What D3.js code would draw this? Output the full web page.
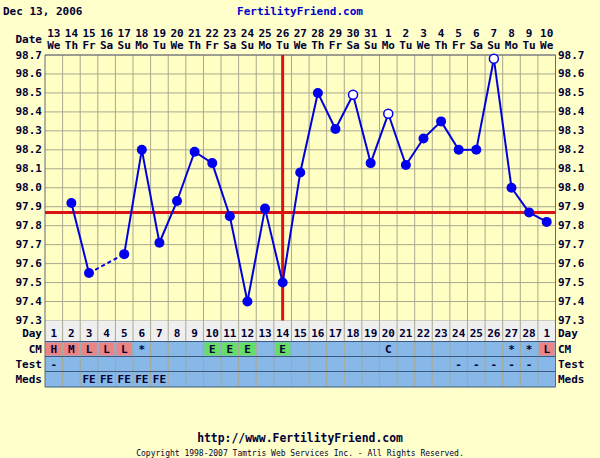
<!DOCTYPE html>
<html>
<head>
<meta charset="utf-8">
<script src="https://cdn.jsdelivr.net/npm/d3@7"></script>
<style>
  body { margin: 0; background: #ffffcc; }
  svg { display: block; }
  text { font-family: "DejaVu Sans Mono", monospace; font-weight: bold; fill: #000033; }
</style>
</head>
<body>
<svg id="chart" width="600" height="458"></svg>
<script>
// dates along the top
const dates = ["13","14","15","16","17","18","19","20","21","22","23","24","25","26","27","28","29","30","31",
               "1","2","3","4","5","6","7","8","9","10"];
const weekdays = ["We","Th","Fr","Sa","Su","Mo","Tu","We","Th","Fr","Sa","Su","Mo","Tu","We","Th","Fr","Sa","Su",
                  "Mo","Tu","We","Th","Fr","Sa","Su","Mo","Tu","We"];
const cycleDays = ["1","2","3","4","5","6","7","8","9","10","11","12","13","14","15","16","17","18","19","20",
                   "21","22","23","24","25","26","27","28","1"];
// temperaturen (null = niet gemeten)
const temps = [null, 97.92, 97.55, null, 97.65, 98.20, 97.71, 97.93, 98.19, 98.13, 97.85, 97.40, 97.89, 97.50,
               98.08, 98.50, 98.31, 98.49, 98.13, 98.39, 98.12, 98.26, 98.35, 98.20, 98.20, 98.68, 98.00, 97.87, 97.82];
// open cirkels = afwijkende meting
const openMarks = [17, 19, 25];
const cm   = ["H","M","L","L","L","*","","","","E","E","E","","E","","","","","","C","","","","","","","*","*","L"];
const test = ["-","","","","","","","","","","","","","","","","","","","","","","","-","-","-","-","-",""];
const meds = ["","","FE","FE","FE","FE","FE","","","","","","","","","","","","","","","","","","","","","",""];
const yTicks = [98.7, 98.6, 98.5, 98.4, 98.3, 98.2, 98.1, 98.0, 97.9, 97.8, 97.7, 97.6, 97.5, 97.4, 97.3];
const coverline = 97.87;
const ovulationDay = 13;

const plotLeft = 45, plotRight = 555.5, plotTop = 55, plotBottom = 320.5;
const svg = d3.select("#chart");

const x = d3.scaleBand().domain(d3.range(dates.length)).range([plotLeft, plotRight]);
const y = d3.scaleLinear().domain([97.3, 98.7]).range([plotBottom, plotTop]);
const cx = i => x(i) + x.bandwidth() / 2;

// header
svg.append("text").attr("x", 3).attr("y", 15).style("font-size", "11px").text("Dec 13, 2006");
svg.append("text").attr("x", 300).attr("y", 15).attr("text-anchor", "middle")
    .style("font-size", "11px").style("fill", "#0000cc").text("FertilityFriend.com");

// plot achtergrond + grid
svg.append("rect").attr("x", plotLeft).attr("y", plotTop).attr("width", plotRight - plotLeft).attr("height", plotBottom - plotTop)
    .attr("fill", "#ffffc4");

svg.append("g").selectAll("line").data(yTicks).join("line")
    .attr("x1", plotLeft).attr("x2", plotRight)
    .attr("y1", d => y(d)).attr("y2", d => y(d))
    .attr("stroke", "#a8a890").attr("stroke-width", 1);

// tabel rijen
const rows = [
  { name: "Day",  y0: 320.5, y1: 341.5, fill: "#efefef", vals: cycleDays, dy: 6 },
  { name: "CM",   y0: 341.5, y1: 356.5, fill: "#88b8e8", vals: cm, dy: 4 },
  { name: "Test", y0: 356.5, y1: 371.5, fill: "#88b8e8", vals: test, dy: 4 },
  { name: "Meds", y0: 371.5, y1: 387,   fill: "#88b8e8", vals: meds, dy: 4 }
];

rows.forEach(r => {
  svg.append("rect").attr("x", plotLeft).attr("y", r.y0).attr("width", plotRight - plotLeft).attr("height", r.y1 - r.y0)
      .attr("fill", r.fill);
});

// gekleurde CM cellen
const cmColor = v => (v === "H" || v === "M" || v === "L") ? "#ec8484" : v === "E" ? "#66dd66" : null;
svg.append("g").selectAll("rect").data(cm.map((v, i) => ({ v, i })).filter(d => cmColor(d.v)))
    .join("rect")
    .attr("x", d => x(d.i) + 1).attr("y", 342.5)
    .attr("width", x.bandwidth() - 2).attr("height", 13)
    .attr("fill", d => cmColor(d.v));

// verticale gridlijnen (plot + tabel)
svg.append("g").selectAll("line").data(d3.range(dates.length + 1)).join("line")
    .attr("x1", i => plotLeft + i * x.bandwidth()).attr("x2", i => plotLeft + i * x.bandwidth())
    .attr("y1", plotTop).attr("y2", 387)
    .attr("stroke", i => (i === 0 || i === dates.length) ? "#667" : "#a8a890").attr("stroke-width", 1);

// rij scheidingslijnen
svg.append("g").selectAll("line").data([341.5, 356.5, 371.5, 387]).join("line")
    .attr("x1", plotLeft).attr("x2", plotRight).attr("y1", d => d).attr("y2", d => d)
    .attr("stroke", "#3a5a80").attr("stroke-width", 1);
svg.append("line").attr("x1", plotLeft).attr("x2", plotRight).attr("y1", plotTop).attr("y2", plotTop)
    .attr("stroke", "#667");

rows.forEach(r => {
  const mid = (r.y0 + r.y1) / 2 + r.dy;
  svg.append("text").attr("x", 42).attr("y", mid).attr("text-anchor", "end").style("font-size", "11px").text(r.name);
  svg.append("text").attr("x", 558).attr("y", mid).style("font-size", "11px").text(r.name);
  svg.append("g").selectAll("text").data(r.vals.map((v, i) => ({ v, i })).filter(d => d.v)).join("text")
      .attr("x", d => cx(d.i)).attr("y", mid).attr("text-anchor", "middle")
      .style("font-size", "11px").text(d => d.v);
});

// datums boven
svg.append("text").attr("x", 42).attr("y", 43).attr("text-anchor", "end").style("font-size", "11px").text("Date");
svg.append("g").selectAll("text").data(dates).join("text")
    .attr("x", (d, i) => cx(i)).attr("y", 37).attr("text-anchor", "middle").style("font-size", "11px").text(d => d);
svg.append("g").selectAll("text").data(weekdays).join("text")
    .attr("x", (d, i) => cx(i)).attr("y", 49).attr("text-anchor", "middle").style("font-size", "11px").text(d => d);

// y-as labels links en rechts
svg.append("g").selectAll("text").data(yTicks).join("text")
    .attr("x", 42).attr("y", d => y(d) + 3.5).attr("text-anchor", "end").style("font-size", "11px")
    .text(d => d.toFixed(1));
svg.append("g").selectAll("text").data(yTicks).join("text")
    .attr("x", 558).attr("y", d => y(d) + 3.5).style("font-size", "11px")
    .text(d => d.toFixed(1));

// rode lijnen
svg.append("line").attr("x1", cx(ovulationDay)).attr("x2", cx(ovulationDay))
    .attr("y1", plotTop).attr("y2", plotBottom).attr("stroke", "#dd1111").attr("stroke-width", 3);
svg.append("line").attr("x1", plotLeft).attr("x2", plotRight)
    .attr("y1", y(coverline)).attr("y2", y(coverline)).attr("stroke", "#dd1111").attr("stroke-width", 3);

// lijnstukken tussen metingen (gestippeld over een gat)
const pts = temps.map((t, i) => ({ t, i })).filter(d => d.t !== null);
const segs = d3.pairs(pts).map(([a, b]) => ({ a, b, gap: b.i - a.i > 1 }));
svg.append("g").selectAll("line").data(segs).join("line")
    .attr("x1", d => cx(d.a.i)).attr("y1", d => y(d.a.t))
    .attr("x2", d => cx(d.b.i)).attr("y2", d => y(d.b.t))
    .attr("stroke", "#0000dd").attr("stroke-width", 2)
    .attr("stroke-dasharray", d => d.gap ? "4,3" : null);

svg.append("g").selectAll("circle").data(pts).join("circle")
    .attr("cx", d => cx(d.i)).attr("cy", d => y(d.t))
    .attr("r", d => openMarks.includes(d.i) ? 4.5 : 5)
    .attr("fill", d => openMarks.includes(d.i) ? "#ffffff" : "#0000ee")
    .attr("stroke", "#0000ee")
    .attr("stroke-width", d => openMarks.includes(d.i) ? 1.5 : 0);

// footer
svg.append("text").attr("x", 300).attr("y", 442).attr("text-anchor", "middle")
    .style("font-size", "11.4px").text("http://www.FertilityFriend.com");
svg.append("text").attr("x", 300).attr("y", 456).attr("text-anchor", "middle")
    .style("font-size", "8px").style("font-weight", "normal").text("Copyright 1998-2007 Tamtris Web Services Inc. - All Rights Reserved.");
</script>
</body>
</html>
